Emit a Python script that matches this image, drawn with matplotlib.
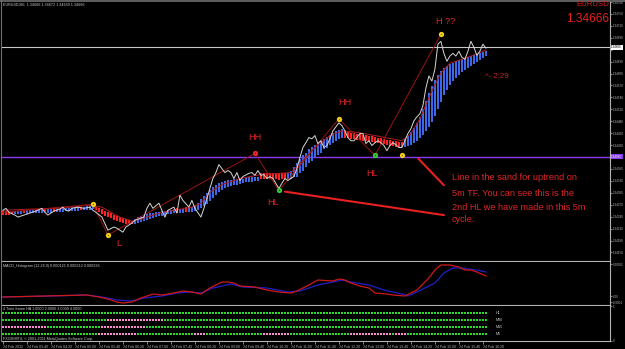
import matplotlib
matplotlib.use('Agg')
import matplotlib.pyplot as plt
import matplotlib.transforms as mtrans

plt.rcParams['font.family'] = ['Liberation Sans', 'DejaVu Sans']

# ---------------- data ----------------
symbol_info = "EURUSD,M5  1.34666 1.34672 1.34659 1.34666"
last_price = 1.34666
sand_line = 1.34391

white_bar = [0, 1, 2, 4, 5, 7, 9, 11, 13, 14, 15, 17, 19, 20, 21, 22, 23, 25, 27, 29, 30, 31, 33, 35, 37, 38, 40,
             41, 43, 44, 47, 48, 49, 50, 52, 53, 54, 55, 57, 58, 59, 60, 62, 63, 64, 66, 67, 68, 69, 70, 71, 72, 73,
             74, 75, 76, 77, 78, 79, 80, 82, 83, 84, 85, 86, 87, 88, 89, 90, 92, 93, 94, 95, 97, 98, 99, 100, 101,
             102, 103, 104, 105, 106, 107, 108, 109, 110, 111, 112, 113, 114, 115, 116, 117, 118, 119, 120, 121,
             122, 123, 124, 125, 126, 127, 128, 129, 130, 131, 132, 133, 134, 135, 136, 137, 138, 139, 140, 141,
             142, 143, 144, 145, 146, 147, 148, 149, 150, 151, 152, 153, 154, 155, 156, 157, 158, 159, 160, 161]
white_price = [1.34256, 1.34261, 1.34251, 1.34244, 1.34239, 1.34244, 1.34249, 1.34254, 1.34261, 1.34251, 1.34244,
               1.34254, 1.34259, 1.34264, 1.34256, 1.34254, 1.34261, 1.34264, 1.34261, 1.34264, 1.34256, 1.34251,
               1.34239, 1.34206, 1.34214, 1.34211, 1.34201, 1.34214, 1.34224, 1.34231, 1.34239, 1.34261, 1.34274,
               1.34261, 1.34274, 1.34256, 1.34239, 1.34256, 1.34264, 1.34249, 1.34294, 1.34281, 1.34264, 1.34281,
               1.34261, 1.34239, 1.34261, 1.34286, 1.34311, 1.34336, 1.34351, 1.34371, 1.34361, 1.34351, 1.34356,
               1.34351, 1.34336, 1.34351, 1.34331, 1.34341, 1.34349, 1.34351, 1.34344, 1.34356, 1.34344, 1.34346,
               1.34336, 1.34341, 1.34336, 1.34311, 1.34324, 1.34336, 1.34331, 1.34341, 1.34361, 1.34389, 1.34414,
               1.34426, 1.34439, 1.34436, 1.34444, 1.34424, 1.34431, 1.34414, 1.34419, 1.34436, 1.34456, 1.34466,
               1.34476, 1.34469, 1.34456, 1.34439, 1.34431, 1.34431, 1.34439, 1.34449, 1.34449, 1.34424, 1.34431,
               1.34419, 1.34426, 1.34431, 1.34426, 1.34419, 1.34406, 1.34419, 1.34426, 1.34421, 1.34414, 1.34414,
               1.34431, 1.34449, 1.34461, 1.34481, 1.34491, 1.34499, 1.34519, 1.34564, 1.34594, 1.34581, 1.34611,
               1.34674, 1.34681, 1.34651, 1.34631, 1.34644, 1.34651, 1.34644, 1.34656, 1.34641, 1.34636, 1.34656,
               1.34681, 1.34666, 1.34646, 1.34656, 1.34674, 1.34664]

# Heiken-Ashi style bodies, one per 5-minute bar (R = bearish, B = bullish)
ha_dir = ("RRRR" "BBBR" "BBBB" "BBRBB" "RBBBBB" "BBBRB" "BBB" "RRRRRRRRRRRRR" "BBBBBBBBBBBBBB" "RBBRBB"
          "BBBBBBBBBBBBBBBBBBBBBB" "RRRRRRRRR" "BBBBBBBBBBBBBBBBBBB" "RRRRRRRRRRRRRRRRRRRR"
          "BBBBBBBBBBBBBBBBBBBBBBBBBBBB")
ha_hi = [1.34254, 1.34254, 1.34251, 1.34251, 1.34254, 1.34254, 1.34254, 1.34254, 1.34256, 1.34256, 1.34256,
         1.34256, 1.34259, 1.34259, 1.34259, 1.34259, 1.34259, 1.34261, 1.34259, 1.34259, 1.34261, 1.34261,
         1.34261, 1.34264, 1.34264, 1.34264, 1.34264, 1.34264, 1.34266, 1.34266, 1.34266, 1.34264, 1.34261,
         1.34259, 1.34254, 1.34251, 1.34249, 1.34244, 1.34241, 1.34239, 1.34236, 1.34234, 1.34231, 1.34229,
         1.34234, 1.34239, 1.34241, 1.34244, 1.34246, 1.34249, 1.34249, 1.34251, 1.34251, 1.34254, 1.34254,
         1.34256, 1.34256, 1.34259, 1.34261, 1.34259, 1.34259, 1.34264, 1.34261, 1.34264, 1.34269, 1.34274,
         1.34284, 1.34291, 1.34299, 1.34306, 1.34314, 1.34319, 1.34324, 1.34326, 1.34329, 1.34331, 1.34331,
         1.34334, 1.34334, 1.34336, 1.34336, 1.34339, 1.34339, 1.34341, 1.34341, 1.34341, 1.34351, 1.34351,
         1.34351, 1.34351, 1.34351, 1.34349, 1.34349, 1.34349, 1.34349, 1.34351, 1.34356, 1.34366, 1.34376,
         1.34386, 1.34394, 1.34401, 1.34409, 1.34416, 1.34421, 1.34426, 1.34431, 1.34436, 1.34441, 1.34446,
         1.34451, 1.34456, 1.34459, 1.34461, 1.34456, 1.34454, 1.34451, 1.34451, 1.34449, 1.34449, 1.34446,
         1.34446, 1.34444, 1.34444, 1.34441, 1.34439, 1.34439, 1.34436, 1.34434, 1.34434, 1.34431, 1.34431,
         1.34429, 1.34429, 1.34436, 1.34444, 1.34454, 1.34464, 1.34476, 1.34491, 1.34511, 1.34531, 1.34551,
         1.34569, 1.34584, 1.34596, 1.34606, 1.34614, 1.34619, 1.34624, 1.34626, 1.34631, 1.34634, 1.34636,
         1.34639, 1.34641, 1.34644, 1.34646, 1.34649, 1.34651, 1.34654, 1.34656]
ha_lo = [1.34244, 1.34244, 1.34244, 1.34246, 1.34246, 1.34246, 1.34246, 1.34249, 1.34246, 1.34249, 1.34249,
         1.34249, 1.34249, 1.34249, 1.34251, 1.34249, 1.34249, 1.34251, 1.34251, 1.34251, 1.34251, 1.34254,
         1.34254, 1.34254, 1.34254, 1.34254, 1.34256, 1.34256, 1.34256, 1.34256, 1.34259, 1.34256, 1.34251,
         1.34246, 1.34241, 1.34239, 1.34236, 1.34231, 1.34229, 1.34226, 1.34224, 1.34221, 1.34221, 1.34221,
         1.34221, 1.34224, 1.34226, 1.34229, 1.34231, 1.34234, 1.34236, 1.34239, 1.34241, 1.34241, 1.34244,
         1.34246, 1.34246, 1.34249, 1.34249, 1.34249, 1.34249, 1.34251, 1.34251, 1.34251, 1.34254, 1.34256,
         1.34261, 1.34266, 1.34271, 1.34279, 1.34286, 1.34294, 1.34301, 1.34306, 1.34311, 1.34314, 1.34316,
         1.34319, 1.34319, 1.34321, 1.34324, 1.34326, 1.34326, 1.34326, 1.34329, 1.34329, 1.34336, 1.34336,
         1.34336, 1.34336, 1.34334, 1.34334, 1.34331, 1.34334, 1.34334, 1.34334, 1.34336, 1.34339, 1.34341,
         1.34349, 1.34356, 1.34364, 1.34374, 1.34381, 1.34389, 1.34396, 1.34401, 1.34409, 1.34414, 1.34421,
         1.34426, 1.34431, 1.34436, 1.34439, 1.34439, 1.34439, 1.34436, 1.34436, 1.34434, 1.34434, 1.34431,
         1.34431, 1.34429, 1.34429, 1.34426, 1.34426, 1.34424, 1.34424, 1.34421, 1.34419, 1.34419, 1.34416,
         1.34416, 1.34416, 1.34416, 1.34419, 1.34421, 1.34426, 1.34431, 1.34439, 1.34446, 1.34456, 1.34466,
         1.34479, 1.34494, 1.34511, 1.34529, 1.34546, 1.34559, 1.34571, 1.34581, 1.34589, 1.34596, 1.34604,
         1.34609, 1.34614, 1.34619, 1.34624, 1.34629, 1.34634, 1.34639, 1.34644]

ma_bar = [0, 9, 19, 29, 33, 36, 39, 43, 46, 53, 63, 66, 69, 73, 79, 86, 96, 99, 103, 106, 109, 113, 119, 126,
          133, 136, 139, 143, 146, 149, 153, 156, 161]
ma_price = [1.34256, 1.34259, 1.34261, 1.34269, 1.34264, 1.34251, 1.34239, 1.34229, 1.34234, 1.34251, 1.34264,
            1.34274, 1.34301, 1.34321, 1.34336, 1.34346, 1.34351, 1.34374, 1.34406, 1.34426, 1.34444, 1.34456,
            1.34451, 1.34441, 1.34431, 1.34449, 1.34486, 1.34556, 1.34601, 1.34626, 1.34636, 1.34644, 1.34659]

zigzag_bar = [0, 30, 35, 84, 92, 112, 124, 146]
zigzag_price = [1.34251, 1.34271, 1.34194, 1.34399, 1.34306, 1.34486, 1.34394, 1.34699]

yellow_bar = [30, 35, 112, 133, 146]
yellow_price = [1.34271, 1.34194, 1.34486, 1.34394, 1.34699]
red_bar = [84]
red_price = [1.34399]
green_bar = [92, 124]
green_price = [1.34306, 1.34394]

note_line1_bar = [94, 147]
note_line1_price = [1.34303, 1.34244]
note_line2_bar = [138.5, 147]
note_line2_price = [1.34386, 1.34319]

macd_title = "MACD_Histogram (12,26,9) 0.000121 0.000212 0.000336"
macd_red_bar = [0, 14, 28, 32, 35, 38, 40, 43, 46, 50, 53, 57, 60, 63, 66, 69, 73, 75, 77, 79, 84, 88, 92, 96, 98,
                102, 105, 110, 112, 114, 116, 119, 122, 124, 128, 130, 134, 136, 138, 142, 144, 146, 149, 152, 154,
                156, 158, 161]
macd_red = [-0.00001, 0.0, 0.00001, -0.00001, -0.00003, -0.00006, -0.00007, -0.00006, -0.00002, 0.00002, 0.00001,
            0.00003, 0.00005, 0.00004, 0.00002, 0.00008, 0.00014, 0.00014, 0.00013, 0.0001, 0.00009, 0.00006,
            0.00004, 0.00003, 0.00005, 0.00011, 0.00016, 0.00015, 0.00017, 0.00016, 0.00013, 0.0001, 0.00008,
            0.00003, 0.00002, 0.00001, 0.0, 0.00003, 0.00006, 0.00018, 0.00026, 0.00031, 0.00031, 0.00029,
            0.00026, 0.00026, 0.00024, 0.0002]
macd_blue_bar = [0, 16, 28, 33, 38, 43, 47, 53, 58, 62, 66, 70, 76, 80, 88, 95, 99, 105, 110, 113, 116, 122, 127,
                 133, 135, 138, 144, 147, 150, 153, 155, 158, 161]
macd_blue = [-0.00001, 0.0, 0.00001, -0.00001, -0.00004, -0.00005, -0.00002, 0.0, 0.00003, 0.00004, 0.00003,
             0.00008, 0.00012, 0.00009, 0.00008, 0.00004, 0.00005, 0.00011, 0.00014, 0.00016, 0.00014, 0.00011,
             0.00006, 0.00002, 0.0, 0.00004, 0.00013, 0.00023, 0.00028, 0.00028, 0.00027, 0.00026, 0.00024]

ha_title = "4 Time frame HA 1.0000 2.0000 3.0000 4.0000"
tf_rows = ["H1", "M30", "M15", "M5"]
tf_pink_spans = {"H1": [], "M30": [(35, 53)], "M15": [(0, 14), (33, 47)],
                 "M5": [(32, 44), (64, 67), (87, 95), (116, 129), (131, 134)]}
n_bars = 162

time_tick_bars = list(range(0, 161, 8))
time_labels = ["24 Feb 2012", "24 Feb 03:40", "24 Feb 04:20", "24 Feb 05:00", "24 Feb 05:40", "24 Feb 06:20",
               "24 Feb 07:00", "24 Feb 07:40", "24 Feb 08:20", "24 Feb 09:00", "24 Feb 09:40", "24 Feb 10:20",
               "24 Feb 11:00", "24 Feb 11:40", "24 Feb 12:20", "24 Feb 13:00", "24 Feb 13:40", "24 Feb 14:20",
               "24 Feb 15:00", "24 Feb 15:40", "24 Feb 16:20"]

note_lines = ["Line in the sand for uptrend on", "5m TF. You can see this is the",
              "2nd HL we have made in this 5m", "cycle."]

# ---------------- layout ----------------
W, H = 625, 349
GRAY = '#b4b4b4'
TXT_RED = '#e02626'


def rect(x1, y1, x2, y2):
    return [x1 / W, 1 - y2 / H, (x2 - x1) / W, (y2 - y1) / H]


def ptext(x, y, s, **kw):
    return fig.text(x / W, 1 - y / H, s, **kw)


fig = plt.figure(figsize=(W / 100, H / 100), dpi=100, facecolor='black')
ax = fig.add_axes(rect(2, 2, 610, 261))
axm = fig.add_axes(rect(2, 262, 610, 305), sharex=ax)
axi = fig.add_axes(rect(2, 306, 610, 341), sharex=ax)

for a in (ax, axm, axi):
    a.set_facecolor('black')
    for s in ('top', 'left'):
        a.spines[s].set_visible(False)
    for s in ('right', 'bottom'):
        a.spines[s].set_color(GRAY)
        a.spines[s].set_linewidth(0.8)
    a.yaxis.tick_right()
    a.tick_params(axis='y', colors=GRAY, labelsize=2.2, length=1.5, width=0.5, pad=0.6)
    a.tick_params(axis='x', colors=GRAY, labelsize=2.5, length=2, width=0.5, pad=1)

ax.set_xlim(-0.3, -0.3 + 608 / 3)
ax.set_ylim(1.341285, 1.34776)
ax.tick_params(axis='x', bottom=False, labelbottom=False)
axm.tick_params(axis='x', bottom=False, labelbottom=False)

# price ticks (labels next to the price boxes are left out so they do not collide)
pt = [1.3415 + 0.0003 * k for k in range(22)]
ax.set_yticks(pt)
ax.set_yticklabels(["" if min(abs(v - last_price), abs(v - sand_line)) < 0.00012 else f"{v:.5f}"
                    for v in pt])

# horizontal reference lines
ax.axhline(last_price, color='#c8c8c8', lw=0.8, zorder=1)
ax.axhline(sand_line, color='#8a3cf0', lw=1.0, zorder=1)

# HA bodies
blue_x = [i for i, d in enumerate(ha_dir) if d == 'B']
red_x = [i for i, d in enumerate(ha_dir) if d == 'R']
ax.vlines(blue_x, [ha_lo[i] for i in blue_x], [ha_hi[i] for i in blue_x], colors='#3d68e8', lw=1.45, zorder=2)
ax.vlines(red_x, [ha_lo[i] for i in red_x], [ha_hi[i] for i in red_x], colors='#ff2424', lw=1.45, zorder=2)

# lines
ax.plot(ma_bar, ma_price, color='#b01c1c', lw=0.7, zorder=3)
ax.plot(zigzag_bar, zigzag_price, color='#9a1414', lw=0.7, zorder=3)
ax.plot(white_bar, white_price, color='#d6d6d6', lw=0.7, zorder=4)
ax.plot(note_line1_bar, note_line1_price, color='#e82020', lw=1.5, solid_capstyle='round', zorder=5)
ax.plot(note_line2_bar, note_line2_price, color='#e82020', lw=1.5, solid_capstyle='round', zorder=5)

for bx, by, col, dot in ((yellow_bar, yellow_price, '#f2d21a', '#8a6a00'),
                         (red_bar, red_price, '#e82a2a', '#7a0000'),
                         (green_bar, green_price, '#3cc83c', '#106010')):
    ax.plot(bx, by, 'o', ms=3.8, mfc=col, mec='none', zorder=6)
    ax.plot(bx, by, 'o', ms=1.0, mfc=dot, mec='none', zorder=7)

# right axis boxes
tr = mtrans.blended_transform_factory(ax.transAxes, ax.transData)
ax.text(1.002, last_price, f"{last_price:.5f}", transform=tr, ha='left', va='center', fontsize=2.2,
        color='black', bbox=dict(facecolor='white', edgecolor='none', pad=0.5), zorder=8, clip_on=False)
ax.text(1.002, sand_line, f"{sand_line:.5f}", transform=tr, ha='left', va='center', fontsize=2.2,
        color='white', bbox=dict(facecolor='#8a3cf0', edgecolor='none', pad=0.5), zorder=8, clip_on=False)

# MACD panel
axm.set_ylim(-0.00009, 0.00034)
axm.plot(macd_blue_bar, macd_blue, color='#2020c8', lw=0.9)
axm.plot(macd_red_bar, macd_red, color='#d01818', lw=0.9)
axm.set_yticks([0.00032, 0.0, -0.00006])
axm.set_yticklabels(["0.00032", "0.00", "-0.0001"])

# multi time-frame HA panel
axi.set_ylim(0, 1)
row_y = [0.8, 0.6, 0.4, 0.2]
for name, yv in zip(tf_rows, row_y):
    cols = []
    for b in range(n_bars):
        pink = any(s <= b <= e for s, e in tf_pink_spans[name])
        cols.append('#ff8ccc' if pink else '#2ed82e')
    axi.scatter(range(n_bars), [yv] * n_bars, marker='s', s=2.6, c=cols, linewidths=0)
axi.set_yticks([1, 0])
axi.set_yticklabels(["1", "0"])
axi.set_xticks(time_tick_bars)
axi.set_xticklabels(time_labels)
for lbl in axi.get_xticklabels():
    lbl.set_ha('left')

# frame
fig.add_artist(plt.Line2D([0, 1], [1 - 1 / H, 1 - 1 / H], color='#707070', lw=1.2))
fig.add_artist(plt.Line2D([1.2 / W, 1.2 / W], [1 - 341 / H, 1], color='#707070', lw=0.8))

# ---------------- texts ----------------
small = dict(color='#c8c8c8', fontsize=2.7, ha='left', va='center')
ptext(3, 5, symbol_info, **small)
ptext(3, 266, macd_title, **small)
ptext(3, 309, ha_title, **small)
ptext(3, 339, "FXCM MT4, \u00a9 2001-2011 MetaQuotes Software Corp.", **small)
for name, yv in zip(tf_rows, [313, 320, 327, 334]):
    ptext(496, yv, name, **small)

ptext(609, 5, "EURUSD", color='#d42020', fontsize=5.6, ha='right', va='center')
ptext(609, 19, f"{last_price:.5f}", color='#e81e1e', fontsize=8.6, ha='right', va='center')
ptext(485, 76, "^- 2:29", color='#c42626', fontsize=5.6, ha='left', va='center')

lab = dict(color=TXT_RED, fontsize=6.6, ha='center', va='center')
ptext(446, 21, "H ??", **lab)
ptext(255, 137, "HH", **lab)
ptext(345, 102, "HH", **lab)
ptext(273, 203, "HL", **lab)
ptext(372, 173, "HL", **lab)
ptext(119, 244, "L", **lab)
for s, yv in zip(note_lines, [178, 193, 207, 220]):
    ptext(452, yv, s, color=TXT_RED, fontsize=6.6, ha='left', va='center')

fig.savefig('out.png', dpi=100, facecolor='black')
